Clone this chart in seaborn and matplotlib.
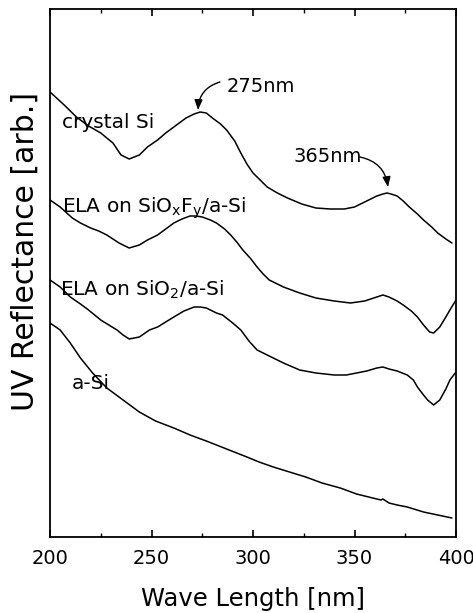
import matplotlib
matplotlib.use("Agg")
import matplotlib.pyplot as plt
import seaborn as sns
import pandas as pd

# wavelength [nm] and reflectance [arb.]
crystal_wl = [200, 207, 213, 219, 225, 231, 235, 239, 244, 248, 253, 257, 261,
              267, 271, 274, 277, 280, 284, 287, 291, 294, 297, 300, 304, 307,
              312, 317, 324, 331, 338, 345, 350, 354, 358, 361, 364, 366, 368,
              371, 374, 377, 381, 384, 388, 391, 395, 398]
crystal_r = [445, 432, 420, 411, 404, 394, 382, 378, 382, 390, 397, 404, 410,
             419, 423, 425, 424, 419, 413, 407, 396, 384, 373, 364, 356, 350,
             344, 339, 333, 329, 328, 328, 330, 334, 338, 341, 343, 344, 343,
             341, 336, 330, 323, 317, 310, 304, 298, 294]

siof_wl = [200, 205, 211, 215, 220, 224, 228, 231, 234, 239, 244, 248, 253, 257,
           261, 265, 269, 272, 275, 279, 282, 286, 289, 292, 295, 299, 302, 305,
           308, 315, 323, 331, 340, 348, 355, 361, 364, 367, 371, 374, 378, 381,
           384, 387, 389, 392, 395, 397, 400]
siof_r = [337, 330, 319, 314, 309, 306, 302, 298, 294, 289, 292, 297, 302, 308,
          314, 318, 321, 321, 320, 317, 314, 308, 302, 295, 287, 278, 270, 263,
          257, 250, 244, 239, 236, 234, 236, 240, 242, 240, 236, 232, 226, 220,
          212, 205, 204, 210, 220, 227, 237]

sio2_wl = [200, 205, 210, 215, 219, 225, 229, 233, 236, 239, 244, 249, 253, 257,
           261, 266, 271, 274, 277, 282, 285, 290, 294, 298, 302, 307, 315, 323,
           331, 340, 346, 351, 356, 361, 364, 367, 371, 376, 379, 381, 384, 386,
           389, 392, 395, 397, 400]
sio2_r = [257, 250, 240, 233, 227, 217, 212, 207, 202, 198, 200, 207, 210, 215,
          220, 226, 230, 230, 229, 224, 222, 214, 207, 196, 187, 182, 174, 167,
          164, 162, 162, 164, 166, 169, 170, 168, 166, 162, 157, 150, 142, 137,
          132, 137, 148, 157, 165]

asi_wl = [200, 205, 210, 215, 221, 228, 232, 236, 240, 244, 252, 261, 269, 277,
          287, 297, 303, 310, 318, 326, 334, 343, 351, 357, 363, 364, 367, 371,
          376, 384, 391, 398]
asi_r = [214, 207, 194, 179, 164, 149, 143, 137, 131, 125, 116, 109, 102, 96,
         88, 80, 75, 70, 65, 60, 54, 49, 43, 40, 37, 38, 34, 32,
         30, 25, 22, 19]

curves = {
    "crystal Si": (crystal_wl, crystal_r),
    "SiOxFy": (siof_wl, siof_r),
    "SiO2": (sio2_wl, sio2_r),
    "a-Si": (asi_wl, asi_r),
}

sns.set_theme(style="ticks")
plt.rcParams['font.family'] = ['DejaVu Sans']
plt.rcParams['mathtext.default'] = 'regular'
plt.rcParams['text.color'] = 'black'

fig = plt.figure(figsize=(4.73, 6.13), dpi=100)
ax = fig.add_axes([50 / 473, 76 / 613, 406 / 473, 528 / 613])

for name, (wl, r) in curves.items():
    df = pd.DataFrame({"wl": wl, "r": r})
    sns.lineplot(data=df, x="wl", y="r", ax=ax, color="black", lw=1.1)

ax.set_xlim(200, 400)
ax.set_ylim(0, 528)
ax.set_xticks([200, 250, 300, 350, 400])
ax.set_xticks([225, 275, 325, 375], minor=True)
ax.set_yticks([])
ax.tick_params(axis="x", which="both", direction="in", top=True,
               labelsize=14, pad=9, colors="black")
ax.tick_params(axis="x", which="major", length=5, width=1.2)
ax.tick_params(axis="x", which="minor", length=3, width=1.0)
for sp in ax.spines.values():
    sp.set_visible(True)
    sp.set_color("black")
    sp.set_linewidth(1.3)

ax.set_xlabel("Wave Length [nm]", fontsize=17.5, color="black")
ax.set_ylabel("UV Reflectance [arb.]", fontsize=21.5, color="black")
ax.xaxis.set_label_coords(0.5, -0.095)
ax.yaxis.set_label_coords(-0.025, 0.54)

fs = 14.5
ax.text(205.9, 409, "crystal Si", fontsize=fs)
ax.text(205.9, 324, "ELA on SiO$_x$F$_y$/a-Si", fontsize=fs)
ax.text(204.9, 241, "ELA on SiO$_2$/a-Si", fontsize=fs)
ax.text(210.7, 148, "a-Si", fontsize=fs)
ax.text(287, 445, "275nm", fontsize=14)
ax.text(319.9, 375, "365nm", fontsize=14)

arrow = dict(arrowstyle="-|>,head_length=0.5,head_width=0.2", color="black",
             lw=1.0, shrinkA=0, shrinkB=0)
ax.annotate("", xy=(272.9, 427), xytext=(283.7, 455),
            arrowprops=dict(arrow, connectionstyle="arc3,rad=0.35"))
ax.annotate("", xy=(366.5, 350), xytext=(352.7, 380),
            arrowprops=dict(arrow, connectionstyle="arc3,rad=-0.35"))

fig.savefig("out.png", dpi=100)
